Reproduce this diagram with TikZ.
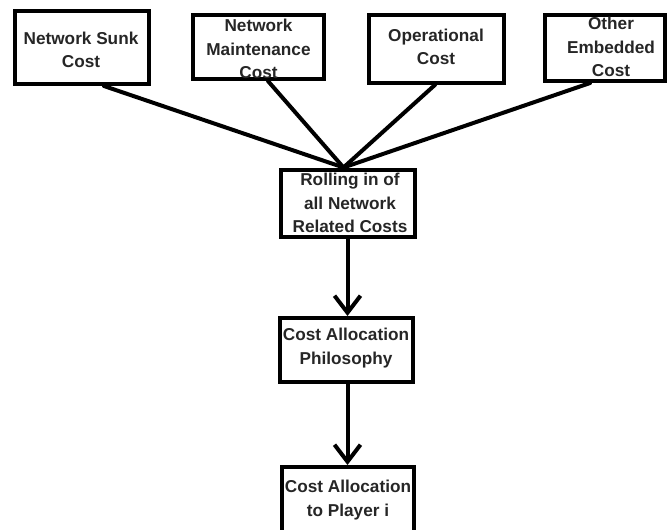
\documentclass[tikz,border=0pt]{standalone}
\usepackage{fontspec}
\setmainfont{Liberation Sans}
\usetikzlibrary{arrows.meta,calc}

\tikzset{
  costbox/.style={draw=black, line width=4pt, fill=white, inner sep=0pt},
  label text/.style={align=center, inner sep=0pt,
    font=\bfseries\fontsize{17.2}{23.5}\selectfont, text=black!85},
  feeder/.style={line width=4pt, line cap=round},
  flow/.style={line width=4pt,
    -{Straight Barb[length=17pt,width=26pt,line width=4pt]}}
}

\begin{document}
\begin{tikzpicture}[x=1pt, y=-1pt]
  \useasboundingbox[fill=white] (0,0) rectangle (667,530);
  \clip (0,0) rectangle (667,530);

  % source cost boxes along the top
  \node[costbox, minimum width=134.5pt, minimum height=73pt] (sunk) at (81.75,47.5) {};
  \node[costbox, minimum width=131pt, minimum height=64pt] (maint) at (258.5,47) {};
  \node[costbox, minimum width=135pt, minimum height=67.5pt] (oper) at (436.5,49) {};
  \node[costbox, minimum width=120pt, minimum height=66pt] (other) at (605,48) {};

  % pooling and allocation chain
  \node[costbox, minimum width=134pt, minimum height=67.5pt] (roll) at (347.5,203.25) {};
  \node[costbox, minimum width=133.5pt, minimum height=64pt] (phil) at (346.25,350) {};
  \node[costbox, minimum width=132pt, minimum height=70pt] (player) at (348,502) {};

  % feeder lines into the pooling box
  \coordinate (merge) at ($(roll.north)+(-4,0)$);
  \draw[feeder] ($(sunk.south west)!0.66!(sunk.south east)$) -- (merge);
  \draw[feeder] ($(maint.south west)!0.57!(maint.south east)$) -- (merge);
  \draw[feeder] ($(oper.south west)!0.49!(oper.south east)$) -- (merge);
  \draw[feeder] ($(other.south west)!0.38!(other.south east)$) -- (merge);

  % box labels
  \node[label text] (tsunk) at (81,50) {Network Sunk\\Cost};
  \node[label text] (tmaint) at (258.5,49) {Network\\Maintenance\\Cost};
  \node[label text] (toper) at (436,47) {Operational\\Cost};
  \node[label text] (tother) at (611,47) {Other\\Embedded\\Cost};
  \node[label text] (troll) at (350,203) {Rolling in of\\all Network\\Related Costs};
  \node[label text] (tphil) at (346,348) {Cost Allocation\\Philosophy};
  \node[label text] (tplayer) at (348,500) {Cost Allocation\\to Player i};

  % downward flow
  \coordinate (rollout) at (roll.south);
  \coordinate (philin) at (rollout |- phil.north);
  \coordinate (philout) at (rollout |- phil.south);
  \coordinate (playerin) at (rollout |- player.north);
  \draw[flow] (rollout) -- (philin);
  \draw[flow] (philout) -- (playerin);
\end{tikzpicture}
\end{document}
